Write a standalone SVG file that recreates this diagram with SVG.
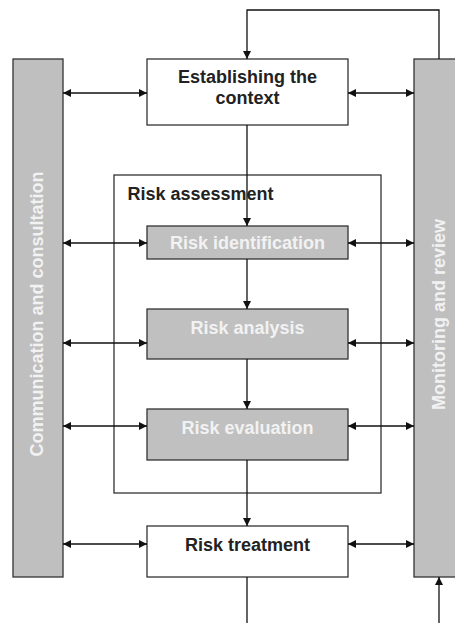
<svg xmlns="http://www.w3.org/2000/svg" width="455" height="623" viewBox="0 0 455 623">
<defs>
<marker id="ah" viewBox="0 0 10 10" refX="10" refY="5" markerWidth="8" markerHeight="8" markerUnits="userSpaceOnUse" orient="auto-start-reverse">
<path d="M0,0 L10,5 L0,10 z" fill="#111"/>
</marker>
<style>
.box{fill:#fff;stroke:#333;stroke-width:1.3}
.gbox{fill:#c0c0c0;stroke:#333;stroke-width:1.3}
.bar{fill:#bfbfbf;stroke:#333;stroke-width:1.3}
.t{font-family:"Liberation Sans",Arial,sans-serif;font-weight:bold;font-size:18px;fill:#222;text-anchor:middle}
.tw{font-family:"Liberation Sans",Arial,sans-serif;font-weight:bold;font-size:18px;fill:#f2f2f2;text-anchor:middle}
.c{fill:none;stroke:#111;stroke-width:1.3}
.a{marker-end:url(#ah)}
.d{marker-start:url(#ah);marker-end:url(#ah)}
</style>
</defs>
<rect width="455" height="623" fill="#fff"/>
<g id="communication">
<rect class="bar" x="13" y="59" width="50" height="518"/>
<text class="tw" transform="translate(43,314) rotate(-90)">Communication and consultation</text>
</g>
<g id="monitoring">
<rect class="bar" x="414" y="59" width="50" height="518"/>
<text class="tw" transform="translate(445,314.5) rotate(-90)">Monitoring and review</text>
</g>
<g id="risk-assessment">
<rect class="box" x="114" y="175" width="267" height="318" fill="none"/>
<text class="t" x="127.5" y="200" style="text-anchor:start">Risk assessment</text>
</g>
<g id="context">
<rect class="box" x="147" y="59" width="201" height="66"/>
<text class="t" x="247.5" y="83">Establishing the</text>
<text class="t" x="247.5" y="104">context</text>
</g>
<g id="identification">
<rect class="gbox" x="147" y="226" width="201" height="33"/>
<text class="tw" x="247.5" y="249">Risk identification</text>
</g>
<g id="analysis">
<rect class="gbox" x="147" y="309" width="201" height="50"/>
<text class="tw" x="247.5" y="334">Risk analysis</text>
</g>
<g id="evaluation">
<rect class="gbox" x="147" y="409" width="201" height="51"/>
<text class="tw" x="247.5" y="434">Risk evaluation</text>
</g>
<g id="treatment">
<rect class="box" x="147" y="526" width="201" height="51"/>
<text class="t" x="247.5" y="551">Risk treatment</text>
</g>
<g id="connectors">
<path class="c a" d="M439,59 V10 H247 V59"/>
<path class="c a" d="M247,125 V226"/>
<path class="c a" d="M247,259 V309"/>
<path class="c a" d="M247,359 V409"/>
<path class="c a" d="M247,460 V526"/>
<path class="c" d="M247,577 V623"/>
<path class="c a" d="M439,623 V577"/>
<path class="c d" d="M63,93 H147"/>
<path class="c d" d="M348,93 H414"/>
<path class="c d" d="M63,243 H147"/>
<path class="c d" d="M348,243 H414"/>
<path class="c d" d="M63,343 H147"/>
<path class="c d" d="M348,343 H414"/>
<path class="c d" d="M63,426 H147"/>
<path class="c d" d="M348,426 H414"/>
<path class="c d" d="M63,544 H147"/>
<path class="c d" d="M348,544 H414"/>
</g>
</svg>
